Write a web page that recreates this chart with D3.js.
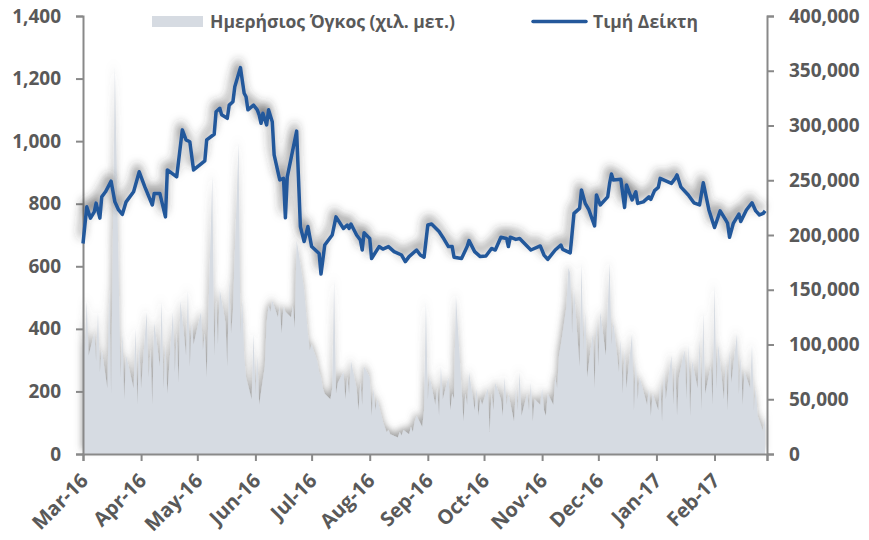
<!DOCTYPE html>
<html>
<head>
<meta charset="utf-8">
<script src="https://cdn.jsdelivr.net/npm/d3@7"></script>
<style>
  body { margin: 0; background: #fff; }
  text { font-family: "Open Sans", sans-serif; font-weight: bold; fill: #595959; }
</style>
</head>
<body>
<svg id="chart" width="869" height="540"></svg>
<script>
// index price (left axis)
var priceDates = ["2016-03-01","2016-03-03","2016-03-05","2016-03-07","2016-03-08","2016-03-10","2016-03-11","2016-03-13","2016-03-16","2016-03-18","2016-03-20","2016-03-22","2016-03-24","2016-03-28","2016-03-31",
  "2016-04-03","2016-04-07","2016-04-08","2016-04-11","2016-04-14","2016-04-15","2016-04-20","2016-04-23","2016-04-25","2016-04-27","2016-04-29",
  "2016-05-05","2016-05-06","2016-05-10","2016-05-11","2016-05-13","2016-05-14","2016-05-17","2016-05-18","2016-05-20","2016-05-21","2016-05-24","2016-05-26","2016-05-27","2016-05-28","2016-05-31",
  "2016-06-02","2016-06-03","2016-06-04","2016-06-05","2016-06-07","2016-06-08","2016-06-10","2016-06-11","2016-06-14","2016-06-16","2016-06-17","2016-06-18","2016-06-23","2016-06-25","2016-06-27","2016-06-29",
  "2016-07-01","2016-07-03","2016-07-05","2016-07-06","2016-07-08","2016-07-12","2016-07-14","2016-07-18","2016-07-20","2016-07-21","2016-07-22","2016-07-25","2016-07-27","2016-07-28","2016-07-29",
  "2016-08-01","2016-08-02","2016-08-06","2016-08-08","2016-08-11","2016-08-14","2016-08-18","2016-08-20","2016-08-22","2016-08-26","2016-08-28","2016-08-30",
  "2016-09-01","2016-09-03","2016-09-07","2016-09-09","2016-09-12","2016-09-14","2016-09-15","2016-09-19","2016-09-22","2016-09-23","2016-09-26","2016-09-29",
  "2016-10-02","2016-10-05","2016-10-07","2016-10-10","2016-10-13","2016-10-14","2016-10-15","2016-10-18","2016-10-20","2016-10-26","2016-10-31",
  "2016-11-02","2016-11-04","2016-11-08","2016-11-11","2016-11-12","2016-11-16","2016-11-18","2016-11-21","2016-11-22","2016-11-24","2016-11-26","2016-11-29","2016-11-30",
  "2016-12-02","2016-12-06","2016-12-07","2016-12-08","2016-12-09","2016-12-13","2016-12-15","2016-12-16","2016-12-19","2016-12-21","2016-12-22","2016-12-25","2016-12-28","2016-12-29","2016-12-31",
  "2017-01-02","2017-01-03","2017-01-06","2017-01-09","2017-01-11","2017-01-12","2017-01-14","2017-01-18","2017-01-21","2017-01-24","2017-01-26","2017-01-27","2017-01-29",
  "2017-02-01","2017-02-04","2017-02-07","2017-02-08","2017-02-09","2017-02-11","2017-02-14","2017-02-15","2017-02-18","2017-02-21","2017-02-23","2017-02-25","2017-02-27","2017-02-28"];
var priceValues = [673,790,754,774,802,754,822,838,872,806,780,766,806,838,902,
  854,796,833,833,758,908,886,1036,1004,998,908,
  937,1004,1022,1094,1105,1084,1073,1115,1126,1174,1235,1153,1142,1100,1115,
  1100,1084,1057,1089,1052,1100,1062,956,876,881,755,886,1032,727,679,727,
  663,652,641,575,668,700,758,721,732,721,735,700,684,652,707,
  689,625,663,655,663,647,636,615,631,652,636,629,
  732,735,711,693,663,663,629,625,663,682,647,631,
  633,657,652,693,689,663,693,686,689,652,665,
  636,622,652,668,654,643,769,785,844,801,780,729,828,
  796,822,865,895,876,878,788,860,812,838,801,806,822,814,842,
  852,881,873,865,881,892,854,828,803,796,867,838,780,
  724,777,748,737,693,737,767,743,780,803,777,764,769,777];

// daily volume (right axis)
var volDates = ["2016-03-01","2016-03-02","2016-03-03","2016-03-04","2016-03-07","2016-03-08","2016-03-09","2016-03-10","2016-03-11","2016-03-14","2016-03-15","2016-03-16","2016-03-18","2016-03-21","2016-03-22","2016-03-23","2016-03-24","2016-03-28","2016-03-29","2016-03-30","2016-03-31",
  "2016-04-01","2016-04-04","2016-04-05","2016-04-06","2016-04-07","2016-04-08","2016-04-11","2016-04-12","2016-04-13","2016-04-14","2016-04-15","2016-04-18","2016-04-19","2016-04-20","2016-04-21","2016-04-22","2016-04-25","2016-04-26","2016-04-27","2016-04-28","2016-04-29",
  "2016-05-03","2016-05-04","2016-05-05","2016-05-06","2016-05-09","2016-05-10","2016-05-11","2016-05-12","2016-05-13","2016-05-16","2016-05-17","2016-05-18","2016-05-19","2016-05-20","2016-05-23","2016-05-24","2016-05-25","2016-05-26","2016-05-27","2016-05-30","2016-05-31",
  "2016-06-01","2016-06-02","2016-06-03","2016-06-06","2016-06-07","2016-06-08","2016-06-09","2016-06-10","2016-06-13","2016-06-14","2016-06-15","2016-06-16","2016-06-17","2016-06-20","2016-06-21","2016-06-22","2016-06-23","2016-06-24","2016-06-27","2016-06-28","2016-06-29","2016-06-30",
  "2016-07-01","2016-07-04","2016-07-05","2016-07-06","2016-07-07","2016-07-08","2016-07-11","2016-07-12","2016-07-13","2016-07-14","2016-07-15","2016-07-18","2016-07-19","2016-07-20","2016-07-21","2016-07-22","2016-07-25","2016-07-26","2016-07-27","2016-07-28","2016-07-29",
  "2016-08-01","2016-08-02","2016-08-03","2016-08-04","2016-08-05","2016-08-08","2016-08-09","2016-08-10","2016-08-11","2016-08-12","2016-08-16","2016-08-17","2016-08-18","2016-08-19","2016-08-22","2016-08-23","2016-08-24","2016-08-25","2016-08-26","2016-08-29","2016-08-30","2016-08-31",
  "2016-09-01","2016-09-02","2016-09-05","2016-09-06","2016-09-07","2016-09-08","2016-09-09","2016-09-12","2016-09-13","2016-09-14","2016-09-15","2016-09-16","2016-09-19","2016-09-20","2016-09-21","2016-09-22","2016-09-23","2016-09-26","2016-09-27","2016-09-28","2016-09-29","2016-09-30",
  "2016-10-03","2016-10-04","2016-10-05","2016-10-06","2016-10-07","2016-10-10","2016-10-11","2016-10-12","2016-10-13","2016-10-14","2016-10-17","2016-10-18","2016-10-19","2016-10-20","2016-10-21","2016-10-24","2016-10-25","2016-10-26","2016-10-27","2016-10-28","2016-10-31",
  "2016-11-01","2016-11-02","2016-11-03","2016-11-04","2016-11-07","2016-11-08","2016-11-09","2016-11-10","2016-11-11","2016-11-14","2016-11-15","2016-11-16","2016-11-17","2016-11-18","2016-11-21","2016-11-22","2016-11-23","2016-11-24","2016-11-25","2016-11-28","2016-11-29","2016-11-30",
  "2016-12-01","2016-12-02","2016-12-05","2016-12-07","2016-12-08","2016-12-09","2016-12-12","2016-12-13","2016-12-14","2016-12-15","2016-12-16","2016-12-19","2016-12-20","2016-12-21","2016-12-22","2016-12-23","2016-12-27","2016-12-28","2016-12-29","2016-12-30",
  "2017-01-02","2017-01-03","2017-01-04","2017-01-05","2017-01-06","2017-01-09","2017-01-10","2017-01-11","2017-01-12","2017-01-13","2017-01-16","2017-01-17","2017-01-18","2017-01-19","2017-01-20","2017-01-23","2017-01-24","2017-01-25","2017-01-26","2017-01-27","2017-01-30","2017-01-31",
  "2017-02-01","2017-02-02","2017-02-03","2017-02-06","2017-02-07","2017-02-08","2017-02-09","2017-02-10","2017-02-13","2017-02-14","2017-02-15","2017-02-16","2017-02-17","2017-02-20","2017-02-21","2017-02-22","2017-02-23","2017-02-24","2017-02-27","2017-02-28"];
var volValues = [120000,95000,140000,90000,110000,85000,130000,75000,95000,60000,150000,55000,355000,70000,110000,50000,90000,60000,115000,45000,100000,
  60000,130000,70000,95000,45000,120000,80000,140000,60000,100000,55000,130000,75000,110000,65000,140000,90000,150000,80000,120000,100000,
  130000,95000,110000,70000,255000,90000,140000,100000,150000,120000,80000,160000,110000,130000,285000,110000,140000,90000,70000,50000,110000,
  55000,90000,45000,80000,120000,135000,130000,140000,125000,135000,110000,135000,130000,125000,135000,115000,195000,185000,150000,130000,110000,95000,
  100000,85000,75000,70000,60000,55000,50000,60000,160000,55000,65000,75000,50000,70000,55000,85000,60000,40000,65000,45000,80000,
  70000,35000,60000,40000,50000,30000,25000,20000,22000,18000,15000,20000,17000,22000,18000,25000,20000,30000,35000,25000,40000,140000,
  50000,70000,45000,60000,35000,80000,50000,70000,40000,55000,50000,145000,60000,30000,55000,45000,75000,40000,60000,35000,50000,45000,
  60000,20000,55000,40000,65000,50000,35000,70000,45000,55000,30000,60000,40000,75000,35000,55000,40000,65000,30000,50000,45000,
  60000,40000,35000,55000,45000,70000,60000,90000,100000,135000,170000,165000,110000,150000,80000,175000,95000,130000,70000,110000,60000,120000,
  80000,130000,90000,175000,100000,120000,75000,105000,55000,95000,60000,110000,40000,85000,50000,70000,45000,60000,35000,55000,
  40000,65000,30000,75000,50000,90000,45000,80000,35000,70000,95000,50000,100000,35000,85000,60000,105000,40000,130000,55000,80000,45000,
  155000,60000,100000,50000,85000,40000,95000,65000,110000,55000,90000,45000,75000,60000,100000,40000,60000,35000,20000,35000];

var leftTicks = [0, 200, 400, 600, 800, 1000, 1200, 1400];
var rightTicks = [0, 50000, 100000, 150000, 200000, 250000, 300000, 350000, 400000];
var legendLabels = ["Ημερήσιος Όγκος (χιλ. μετ.)", "Τιμή Δείκτη"];

var parse = d3.timeParse("%Y-%m-%d");
var price = priceDates.map((d, i) => ({date: parse(d), value: priceValues[i]}));
var volume = volDates.map((d, i) => ({date: parse(d), value: volValues[i]}));

var svg = d3.select("#chart");
var plotLeft = 83, plotRight = 767, plotTop = 16, plotBottom = 454;

var x = d3.scaleTime().domain([parse("2016-03-01"), parse("2017-03-01")]).range([plotLeft, plotRight]);
var yL = d3.scaleLinear().domain([0, 1400]).range([plotBottom, plotTop]);
var yR = d3.scaleLinear().domain([0, 400000]).range([plotBottom, plotTop]);

// soft shadows, like the spreadsheet original
var defs = svg.append("defs");
var fa = defs.append("filter").attr("id", "areaShadow").attr("x", "-10%").attr("y", "-20%").attr("width", "120%").attr("height", "140%");
fa.append("feDropShadow").attr("dx", -1).attr("dy", -4).attr("stdDeviation", 3.5)
  .attr("flood-color", "#555").attr("flood-opacity", 0.55);
var fl = defs.append("filter").attr("id", "lineShadow").attr("x", "-10%").attr("y", "-20%").attr("width", "120%").attr("height", "140%");
fl.append("feDropShadow").attr("dx", -2).attr("dy", -6).attr("stdDeviation", 5)
  .attr("flood-color", "#333").attr("flood-opacity", 0.75);

// volume area
svg.append("path")
  .datum(volume)
  .attr("fill", "#d6dbe2")
  .attr("filter", "url(#areaShadow)")
  .attr("d", d3.area().x(d => x(d.date)).y0(plotBottom).y1(d => yR(d.value)));

// axes
var axisColor = "#898989";
var gL = svg.append("g").attr("transform", "translate(" + plotLeft + ",0)")
  .call(d3.axisLeft(yL).tickValues(leftTicks).tickSize(7).tickPadding(15).tickFormat(d3.format(",")));
var gR = svg.append("g").attr("transform", "translate(" + plotRight + ",0)")
  .call(d3.axisRight(yR).tickValues(rightTicks).tickSize(7).tickPadding(15).tickFormat(d3.format(",")));
var gB = svg.append("g").attr("transform", "translate(0," + plotBottom + ")")
  .call(d3.axisBottom(x).ticks(d3.timeMonth.every(1)).tickSize(7).tickFormat(d => d >= parse("2017-03-01") ? "" : d3.timeFormat("%b-%y")(d)));

[gL, gR, gB].forEach(g => {
  g.select(".domain").attr("stroke", axisColor).attr("stroke-width", 2);
  g.selectAll(".tick line").attr("stroke", axisColor).attr("stroke-width", 2);
  g.selectAll("text").style("font-size", "19px").style("font-family", "Open Sans, sans-serif").attr("fill", "#595959");
});
gB.selectAll(".tick text")
  .style("font-size", "20px")
  .style("text-anchor", "end")
  .attr("dx", "0")
  .attr("dy", "0.35em")
  .attr("transform", "translate(1,23) rotate(-45)")
  .attr("y", 0);

// index line
svg.append("path")
  .datum(price)
  .attr("fill", "none")
  .attr("stroke", "#24589b")
  .attr("stroke-width", 3.5)
  .attr("stroke-linejoin", "round")
  .attr("filter", "url(#lineShadow)")
  .attr("d", d3.line().x(d => x(d.date)).y(d => yL(d.value)));

// legend
svg.append("rect").attr("x", 152).attr("y", 16).attr("width", 51).attr("height", 11).attr("fill", "#d6dbe2");
svg.append("text").attr("x", 210).attr("y", 28).style("font-size", "17.5px").text(legendLabels[0]);
svg.append("line").attr("x1", 533).attr("x2", 586).attr("y1", 21.5).attr("y2", 21.5)
  .attr("stroke", "#24589b").attr("stroke-width", 3.5).attr("stroke-linecap", "round");
svg.append("text").attr("x", 593).attr("y", 28).style("font-size", "17.5px").text(legendLabels[1]);
</script>
</body>
</html>
